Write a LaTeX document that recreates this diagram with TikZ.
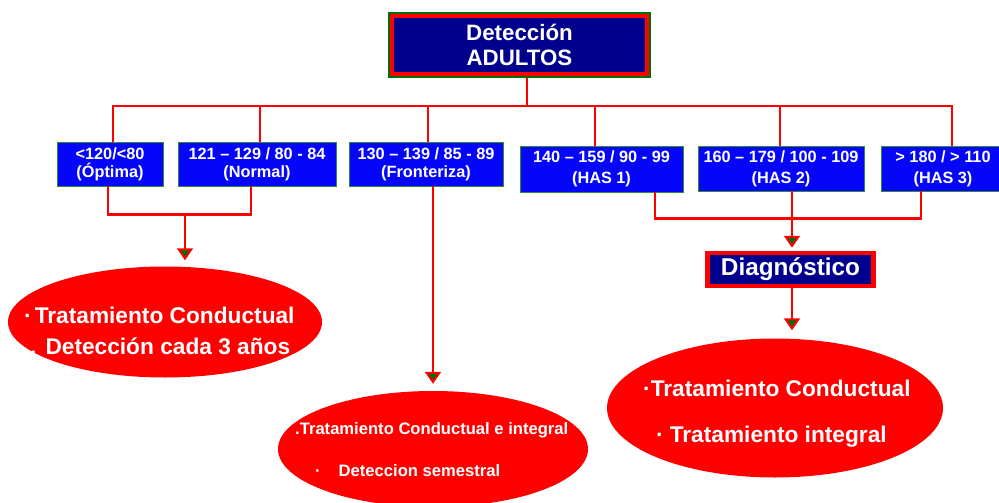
\documentclass[tikz,border=0pt]{standalone}
\usepackage{fontspec}
\setmainfont{Liberation Sans}
\usetikzlibrary{arrows.meta,shapes.geometric,calc}
\definecolor{navy}{RGB}{0,0,140}
\definecolor{boxblue}{RGB}{5,5,250}
\definecolor{dkgreen}{RGB}{0,110,0}
\begin{document}
\begin{tikzpicture}[x=1pt,y=-1pt,
  conn/.style={draw=red,line width=2.2pt},
  arr/.style={conn,-{Triangle[width=16pt,length=12pt,fill=dkgreen,line width=2pt]}},
  rng/.style={draw=dkgreen!80,line width=0.8pt,fill=boxblue,text=white,
    font=\bfseries\fontsize{16.3}{18}\selectfont,align=center,inner sep=0pt},
  rngb/.style={rng,font=\bfseries\fontsize{16.3}{21}\selectfont},
  oval/.style={ellipse,fill=red,draw=none,inner sep=0pt},
  big/.style={text=white,font=\bfseries\fontsize{22.7}{26}\selectfont,inner sep=0pt,anchor=west},
  small/.style={text=white,font=\bfseries\fontsize{16.6}{18}\selectfont,inner sep=0pt,anchor=west}]
\clip (0,0) rectangle (999,503);
\fill[white] (0,0) rectangle (999,503);

% top box
\node[draw=dkgreen,line width=1.6pt,fill=navy,text=white,align=center,inner sep=0pt,
  minimum width=261pt,minimum height=64pt,
  font=\bfseries\fontsize{22.3}{25}\selectfont] (top) at (519.5,45) {Detección\\ADULTOS};
\draw[red,line width=4.5pt] ($(top.north west)+(3.6,3.6)$) rectangle ($(top.south east)+(-3.6,-3.6)$);

% range boxes
\node[rng,minimum width=106pt,minimum height=44pt] (b1) at (110,164) {{<}120/{<}80\\(Óptima)};
\node[rng,minimum width=158pt,minimum height=44pt] (b2) at (257,164) {121 – 129 / 80 - 84\\(Normal)};
\node[rng,minimum width=154pt,minimum height=44pt] (b3) at (426,164) {130 – 139 / 85 - 89\\(Fronteriza)};
\node[rngb,minimum width=163pt,minimum height=46pt] (b4) at (601.5,169) {140 – 159 / 90 - 99\\(HAS 1)};
\node[rngb,minimum width=166pt,minimum height=45pt] (b5) at (781,168.5) {160 – 179 / 100 - 109\\(HAS 2)};
\node[rngb,minimum width=124pt,minimum height=45pt] (b6) at (943,168.5) {{>} 180 / {>} 110\\(HAS 3)};

% bus
\coordinate (bus) at (0,106);
\draw[conn] ([xshift=7.5]top.south) -- ([xshift=7.5]top.south |- bus);
\draw[conn] ([xshift=3]b1.north) -- ([xshift=3]b1.north |- bus) -| ([xshift=9]b6.north);
\draw[conn] ([xshift=3]b2.north) -- ([xshift=3]b2.north |- bus);
\draw[conn] ([xshift=2]b3.north) -- ([xshift=2]b3.north |- bus);
\draw[conn] ([xshift=-6.5]b4.north) -- ([xshift=-6.5]b4.north |- bus);
\draw[conn] ([xshift=-1]b5.north) -- ([xshift=-1]b5.north |- bus);

% ellipses
\node[oval,minimum width=314pt,minimum height=111pt] (e1) at (165,322) {};
\node[oval,minimum width=310pt,minimum height=116pt] (e2) at (433,449) {};
\node[oval,minimum width=336pt,minimum height=139pt] (e3) at (775,408) {};

% diagnostico
\node[draw=red,line width=4.5pt,fill=navy,text=white,inner sep=0pt,
  minimum width=166pt,minimum height=33pt,
  font=\bfseries\fontsize{24.3}{26}\selectfont] (diag) at (790.5,269.5) {Diagnóstico};

% left bracket
\draw[conn] ([xshift=-2]b1.south) -- ++(0,28) coordinate (j0) -| ([xshift=-6]b2.south);
\coordinate (j1) at (185,214);
\draw[arr] (j1) -- ($(j1 |- e1.north)+(0,-6)$);

% middle arrow
\draw[arr] ([xshift=7]b3.south) -- ($(e2.north)+(0,-7)$);

% right bracket
\draw[conn] ([xshift=53.5]b4.south) -- ++(0,26) -| ([xshift=-22]b6.south);
\draw[arr] ([xshift=11]b5.south) -- ($(diag.north)+(1.5,-3)$);
\draw[arr] ([xshift=1.5]diag.south) -- ($(e3.north)+(17,-8)$);

% ellipse texts
\node[big] (t1a) at (24,315) {·\hspace{3pt}Tratamiento Conductual};
\node[big] (t1b) at (30,346) {.\hspace{9pt}Detección cada 3 años};
\node[small] (t2a) at (295,430) {.Tratamiento Conductual e integral};
\node[small] (t2b) at (315,471) {·\hspace{18pt}Deteccion semestral};
\node[big] (t3a) at (643,388) {·Tratamiento Conductual};
\node[big] (t3b) at (656,437) {·\hspace{6pt}Tratamiento integral};
\end{tikzpicture}
\end{document}
